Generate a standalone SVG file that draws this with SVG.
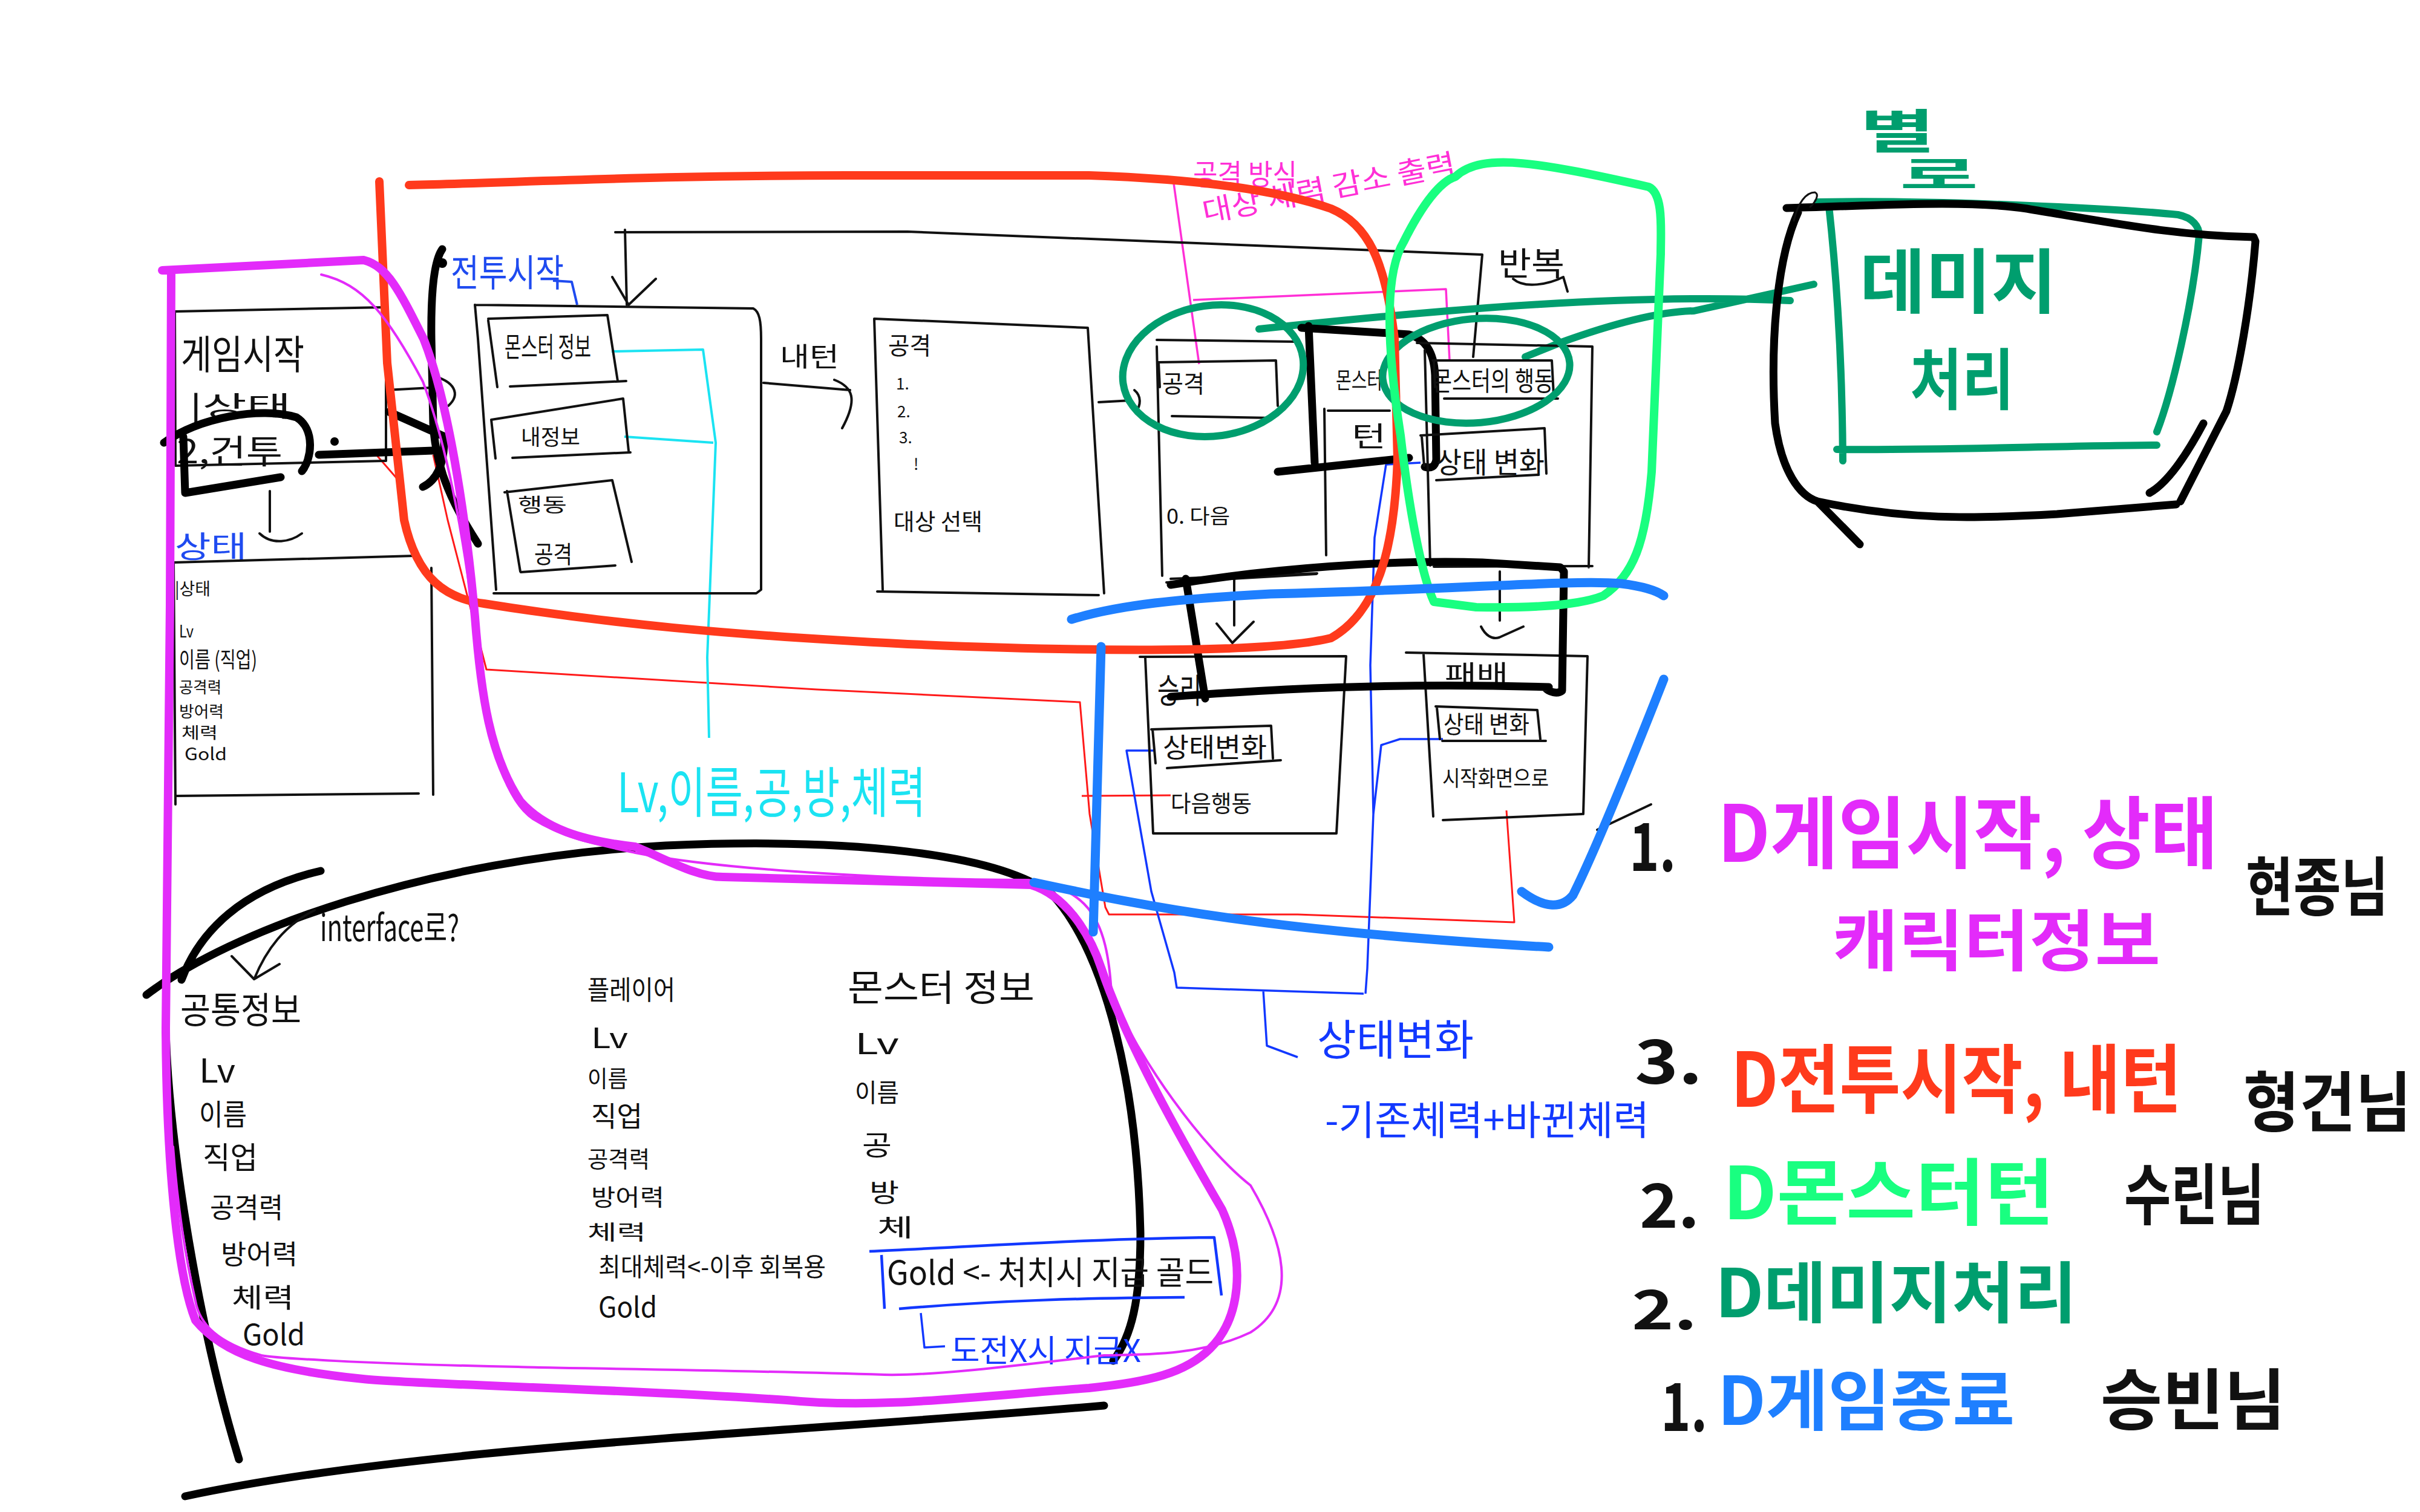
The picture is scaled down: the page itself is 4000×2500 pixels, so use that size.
<svg xmlns="http://www.w3.org/2000/svg" width="4000" height="2500" viewBox="0 0 4000 2500">
<style>
.t{font-family:"Noto Sans CJK KR","Noto Sans",sans-serif;fill:#111;}
.b{font-weight:700;}
.k{fill:none;stroke:#111;stroke-width:4;stroke-linecap:round;stroke-linejoin:round;}
.K{fill:none;stroke:#000;stroke-width:13;stroke-linecap:round;stroke-linejoin:round;}
.red{fill:none;stroke:#FF3A1C;stroke-width:14;stroke-linecap:round;stroke-linejoin:round;}
.rt{fill:none;stroke:#FF1A1A;stroke-width:3;stroke-linejoin:round;}
.mg{fill:none;stroke:#E32BFA;stroke-width:14;stroke-linecap:round;stroke-linejoin:round;}
.mgt{fill:none;stroke:#E32BFA;stroke-width:4;stroke-linecap:round;}
.pk{fill:none;stroke:#FF2FD6;stroke-width:3.5;stroke-linejoin:round;}
.cy{fill:none;stroke:#1BE3F2;stroke-width:4;stroke-linejoin:round;}
.gb{fill:none;stroke:#19FF80;stroke-width:14;stroke-linecap:round;stroke-linejoin:round;}
.gd{fill:none;stroke:#009E6E;stroke-width:12;stroke-linecap:round;stroke-linejoin:round;}
.bl{fill:none;stroke:#1E7FFF;stroke-width:15;stroke-linecap:round;stroke-linejoin:round;}
.blt{fill:none;stroke:#1238FF;stroke-width:3.5;stroke-linejoin:round;}
.cB{fill:#1F4BF0;}
.cC{fill:#1BE3F2;}
.cM{fill:#E32BFA;}
.cP{fill:#FF2FD6;}
.cR{fill:#FF3A1C;}
.cG{fill:#19FF80;}
.cD{fill:#009E6E;}
.cL{fill:#1E7FFF;}
.cT{fill:#1238FF;}
</style>
<rect width="4000" height="2500" fill="#fff"/>

<g id="connectors">
  <path class="rt" d="M716 752 L740 860 L804 1107 L1350 1140 L1785 1161 L1801 1346 L1827 1500 L1833 1512 L2145 1512 L2503 1525 L2490 1340 M1788 1316 L1935 1315 M622 752 L655 790"/>
  <path class="cy" d="M1011 581 L1162 578 L1183 732 L1169 1087 L1172 1220 M1032 722 L1179 732"/>
  <path class="blt" d="M1909 1241 L1862 1241 L1903 1474 L1941 1608 L1945 1633 L2254 1643 M2385 1222 L2314 1222 L2283 1232 L2270 1346 L2260 1601 L2257 1643 M2088 1637 L2094 1729 L2145 1748 M2348 765 L2291 768 L2272 889 L2265 1100 L2270 1346 M1522 2171 L1528 2228 L1562 2226"/>
  <path class="pk" d="M1940 303 L1982 602 M1940 303 L1962 303 M1972 496 L2390 478 L2396 596"/>
  <path class="k" d="M1017 384 L1500 383 L2100 407 L2450 421 L2435 590 M1033 380 L1036 504 M1012 458 L1039 504 L1084 461"/>
  <path class="k" d="M1262 633 L1405 645 M1379 628 C1410 640 1418 660 1392 708"/>
  <path class="k" d="M1816 665 L1870 662 M1875 645 C1887 655 1886 670 1877 682"/>
  <path class="k" d="M638 645 L713 641 M713 621 C752 630 762 652 741 671"/>
  <path class="k" d="M446 812 L446 879 M429 882 C450 902 480 896 499 882"/>
  <path class="k" d="M2040 957 L2040 1034 M2011 1031 L2037 1063 L2072 1028"/>
  <path class="k" d="M2479 945 L2479 1026 M2448 1036 C2455 1050 2466 1058 2478 1054 L2518 1036"/>
  <path class="k" d="M2501 461 C2520 478 2560 470 2584 458 L2591 482"/>
  <path class="k" d="M2640 1372 L2729 1330"/>
  <path class="blt" style="stroke:#1F4BF0;stroke-width:4" d="M914 464 L945 466 L954 504"/>
  <path class="gd" d="M2081 544 C2400 510 2700 485 2959 497 M2521 590 L2578 567 C2680 530 2750 515 2800 514 L2998 470"/>
</g>

<g id="region-game-start">
  <path class="k" d="M289 515 L638 508 L638 762 M289 515 L290 770 L636 762"/>
  <text class="t" x="299" y="610" font-size="66" textLength="204" lengthAdjust="spacingAndGlyphs">게임시작</text>
  <text class="t" x="313" y="688" font-size="46" textLength="168" lengthAdjust="spacingAndGlyphs">|상태</text>
  <text class="t" x="292" y="766" font-size="55" textLength="175" lengthAdjust="spacingAndGlyphs">2,건투</text>
  <path class="K" d="M271 732 C330 690 430 672 490 690 C522 710 515 760 499 779 M303 722 L306 815 L464 789 M527 752 L716 745"/>
  <circle cx="553" cy="730" r="7" fill="#000"/>
</g>

<g id="region-status">
  <text class="t cB" x="289" y="922" font-size="50" textLength="119" lengthAdjust="spacingAndGlyphs">상태</text>
  <path class="k" d="M287 930 L685 919 M713 939 L716 1314 M292 1316 L692 1312 M287 930 L290 1330"/>
  <text class="t" x="289" y="984" font-size="28" textLength="59" lengthAdjust="spacingAndGlyphs">|상태</text>
  <text class="t" x="296" y="1054" font-size="28" textLength="24" lengthAdjust="spacingAndGlyphs">Lv</text>
  <text class="t" x="296" y="1104" font-size="36" textLength="129" lengthAdjust="spacingAndGlyphs">이름 (직업)</text>
  <text class="t" x="296" y="1146" font-size="26" textLength="70" lengthAdjust="spacingAndGlyphs">공격력</text>
  <text class="t" x="296" y="1186" font-size="26" textLength="74" lengthAdjust="spacingAndGlyphs">방어력</text>
  <text class="t" x="300" y="1221" font-size="26" textLength="60" lengthAdjust="spacingAndGlyphs">체력</text>
  <text class="t" x="305" y="1257" font-size="28" textLength="70" lengthAdjust="spacingAndGlyphs">Gold</text>
</g>

<g id="region-battle-start">
  <path class="K" d="M731 412 C718 430 712 480 713 560 L716 700 C720 780 752 840 790 899 M643 681 L735 722 M734 725 C735 770 720 795 699 805"/>
  <circle cx="731" cy="435" r="8" fill="#000"/>
  <text class="t cB" x="745" y="474" font-size="62" textLength="187" lengthAdjust="spacingAndGlyphs">전투시작</text>
  <path class="k" d="M785 504 L1245 510 C1255 515 1258 530 1258 560 L1258 975 L1250 981 L816 981 M785 504 L790 560 L820 975"/>
  <path class="k" d="M807 527 L1004 521 L1021 630 M843 639 L1035 630 M807 530 L822 640"/>
  <text class="t" x="834" y="590" font-size="46" textLength="143" lengthAdjust="spacingAndGlyphs">몬스터 정보</text>
  <path class="k" d="M812 694 L1030 659 L1039 745 M847 757 L1042 748 M812 694 L819 758"/>
  <text class="t" x="861" y="736" font-size="36" textLength="98" lengthAdjust="spacingAndGlyphs">내정보</text>
  <path class="k" d="M834 814 L1012 794 L1044 929 M861 946 L1017 935 M838 812 L860 945"/>
  <text class="t" x="856" y="846" font-size="32" textLength="81" lengthAdjust="spacingAndGlyphs">행동</text>
  <text class="t" x="883" y="931" font-size="40" textLength="63" lengthAdjust="spacingAndGlyphs">공격</text>
  <text class="t" x="1289" y="606" font-size="44" textLength="98" lengthAdjust="spacingAndGlyphs">내턴</text>
</g>

<g id="region-attack">
  <path class="k" d="M1445 527 L1798 542 L1825 981 M1450 978 L1816 984 M1445 527 L1459 975"/>
  <text class="t" x="1468" y="586" font-size="40" textLength="71" lengthAdjust="spacingAndGlyphs">공격</text>
  <text class="t" x="1481" y="644" font-size="26">1.</text>
  <text class="t" x="1483" y="690" font-size="26">2.</text>
  <text class="t" x="1486" y="733" font-size="26">3.</text>
  <text class="t" x="1510" y="777" font-size="26">!</text>
  <text class="t" x="1477" y="876" font-size="38" textLength="147" lengthAdjust="spacingAndGlyphs">대상 선택</text>
</g>

<g id="region-monster-turn">
  <path class="k" d="M1912 562 L2144 565 M1912 573 L1921 952 M1928 963 L2176 949 M1915 599 L2109 596 L2112 671 M1937 688 L2100 691 M1915 599 L1917 640 M2189 676 L2192 918 M2195 679 L2297 679"/>
  <text class="t" x="1921" y="649" font-size="40" textLength="70" lengthAdjust="spacingAndGlyphs">공격</text>
  <text class="t" x="1928" y="866" font-size="34" textLength="105" lengthAdjust="spacingAndGlyphs">0. 다음</text>
  <text class="t" x="2208" y="642" font-size="38" textLength="77" lengthAdjust="spacingAndGlyphs">몬스터</text>
  <text class="t" x="2234" y="738" font-size="46" textLength="57" lengthAdjust="spacingAndGlyphs">턴</text>
  <path class="K" d="M2151 542 L2329 553 C2355 560 2370 580 2372 620 L2374 760 C2372 772 2365 775 2355 772 M2163 539 L2173 765 M2112 780 L2329 757"/>
  <path class="k" d="M2342 567 L2632 573 L2626 938 M2370 937 L2632 936 M2355 579 L2364 935"/>
  <path class="k" d="M2368 596 L2565 596 L2568 653 M2387 659 L2575 659 M2370 596 L2372 640"/>
  <text class="t" x="2368" y="646" font-size="44" textLength="200" lengthAdjust="spacingAndGlyphs">몬스터의 행동</text>
  <path class="k" d="M2348 720 L2553 708 L2556 783 M2374 794 L2543 785 M2350 722 L2354 770"/>
  <text class="t" x="2374" y="782" font-size="48" textLength="179" lengthAdjust="spacingAndGlyphs">상태 변화</text>
  <text class="t" x="2476" y="456" font-size="54" textLength="110" lengthAdjust="spacingAndGlyphs">반복</text>
  <text class="t cP" x="1972" y="306" font-size="48" textLength="172" lengthAdjust="spacingAndGlyphs">공격 방식</text>
  <text class="t cP" x="1991" y="368" font-size="48" textLength="425" lengthAdjust="spacingAndGlyphs" transform="rotate(-11 1991 368)">대상 체력 감소 출력</text>
  <ellipse class="gd" cx="2005" cy="613" rx="150" ry="108" transform="rotate(-8 2005 613)"/>
  <ellipse class="gd" cx="2440" cy="613" rx="155" ry="86" transform="rotate(-5 2440 613)"/>
</g>

<g id="region-win">
  <path class="k" d="M1935 957 L2177 948 M1884 1086 L2225 1085 L2209 1378 M1906 1378 L2209 1378 M1893 1088 L1906 1378"/>
  <text class="t" x="1913" y="1162" font-size="56" textLength="73" lengthAdjust="spacingAndGlyphs">승리</text>
  <path class="k" d="M1903 1206 L2101 1200 L2104 1254 M1929 1270 L2117 1257 M1905 1206 L1910 1262"/>
  <text class="t" x="1922" y="1252" font-size="44" textLength="172" lengthAdjust="spacingAndGlyphs">상태변화</text>
  <text class="t" x="1935" y="1342" font-size="38" textLength="134" lengthAdjust="spacingAndGlyphs">다음행동</text>
</g>

<g id="region-lose">
  <path class="k" d="M2324 1079 L2624 1085 L2617 1346 M2385 1356 L2615 1346 M2353 1082 L2369 1350"/>
  <text class="t" x="2388" y="1130" font-size="42" textLength="105" lengthAdjust="spacingAndGlyphs">패배</text>
  <path class="k" d="M2373 1168 L2541 1174 L2546 1222 M2384 1225 L2555 1225 M2375 1170 L2380 1222"/>
  <text class="t" x="2386" y="1212" font-size="40" textLength="142" lengthAdjust="spacingAndGlyphs">상태 변화</text>
  <text class="t" x="2384" y="1300" font-size="36" textLength="176" lengthAdjust="spacingAndGlyphs">시작화면으로</text>
  <path class="K" d="M1935 967 C2100 940 2300 925 2450 930 L2579 938 L2585 945 L2582 1142 C2575 1148 2560 1145 2553 1136 M1935 1152 C2100 1140 2300 1128 2560 1136 M1960 957 L1992 1155"/>
</g>

<g id="region-notes">
  <text class="t cC" x="1020" y="1343" font-size="90" textLength="510" lengthAdjust="spacingAndGlyphs">Lv,이름,공,방,체력</text>
  <text class="t cT" x="2177" y="1745" font-size="70" textLength="259" lengthAdjust="spacingAndGlyphs">상태변화</text>
  <text class="t cT" x="2190" y="1876" font-size="66" textLength="536" lengthAdjust="spacingAndGlyphs">-기존체력+바뀐체력</text>
</g>

<g id="region-damage">
  <text class="t cD b" x="3074" y="246" font-size="78" textLength="125" lengthAdjust="spacingAndGlyphs">별</text>
  <text class="t cD b" x="3140" y="312" font-size="62" textLength="130" lengthAdjust="spacingAndGlyphs">로</text>
  <path class="gd" d="M3004 334 C3200 330 3500 345 3600 355 C3625 360 3635 375 3635 389 C3625 500 3590 650 3565 714 M3036 743 C3200 745 3400 737 3565 736 M3023 341 C3035 450 3045 600 3046 762"/>
  <text class="t cD b" x="3074" y="508" font-size="116" textLength="326" lengthAdjust="spacingAndGlyphs">데미지</text>
  <text class="t cD b" x="3157" y="668" font-size="110" textLength="172" lengthAdjust="spacingAndGlyphs">처리</text>
  <path class="K" d="M2953 344 C3100 340 3250 330 3350 345 C3500 370 3600 390 3725 392 L3728 399 C3720 500 3700 620 3680 680 L3604 829 M3004 829 C3150 860 3260 858 3400 850 L3597 834 M2972 351 C2940 420 2925 550 2934 700 C2945 780 2975 820 3004 829 L3074 900 M3642 700 C3610 760 3580 800 3553 815"/>
  <path class="k" style="stroke-width:3" d="M2965 365 C2972 335 2985 318 3000 318 C3008 322 3000 335 2992 342"/>
</g>

<g id="region-interface">
  <path class="K" d="M242 1645 C380 1540 700 1420 1100 1398 C1400 1385 1650 1410 1740 1480 C1830 1580 1880 1800 1885 2040 C1885 2150 1870 2210 1840 2250 M300 1620 C330 1540 400 1470 530 1440 M274 1705 C280 1900 330 2200 395 2413 M306 2474 C700 2390 1300 2370 1825 2324"/>
  <path class="k" d="M383 1581 L420 1619 L462 1594 M420 1619 C440 1570 470 1530 520 1505"/>
  <text class="t" x="529" y="1556" font-size="60" textLength="230" lengthAdjust="spacingAndGlyphs">interface로?</text>
  <text class="t" x="298" y="1692" font-size="60" textLength="200" lengthAdjust="spacingAndGlyphs">공통정보</text>
  <text class="t" x="329" y="1790" font-size="54" textLength="60" lengthAdjust="spacingAndGlyphs">Lv</text>
  <text class="t" x="329" y="1860" font-size="48" textLength="79" lengthAdjust="spacingAndGlyphs">이름</text>
  <text class="t" x="335" y="1932" font-size="50" textLength="91" lengthAdjust="spacingAndGlyphs">직업</text>
  <text class="t" x="347" y="2013" font-size="46" textLength="121" lengthAdjust="spacingAndGlyphs">공격력</text>
  <text class="t" x="365" y="2090" font-size="44" textLength="127" lengthAdjust="spacingAndGlyphs">방어력</text>
  <text class="t" x="383" y="2162" font-size="44" textLength="103" lengthAdjust="spacingAndGlyphs">체력</text>
  <text class="t" x="401" y="2224" font-size="48" textLength="103" lengthAdjust="spacingAndGlyphs">Gold</text>
  <text class="t" x="971" y="1653" font-size="44" textLength="145" lengthAdjust="spacingAndGlyphs">플레이어</text>
  <text class="t" x="977" y="1733" font-size="46" textLength="61" lengthAdjust="spacingAndGlyphs">Lv</text>
  <text class="t" x="971" y="1797" font-size="38" textLength="67" lengthAdjust="spacingAndGlyphs">이름</text>
  <text class="t" x="977" y="1862" font-size="46" textLength="85" lengthAdjust="spacingAndGlyphs">직업</text>
  <text class="t" x="971" y="1930" font-size="38" textLength="103" lengthAdjust="spacingAndGlyphs">공격력</text>
  <text class="t" x="977" y="1993" font-size="38" textLength="121" lengthAdjust="spacingAndGlyphs">방어력</text>
  <text class="t" x="971" y="2050" font-size="34" textLength="97" lengthAdjust="spacingAndGlyphs">체력</text>
  <text class="t" x="989" y="2110" font-size="42" textLength="376" lengthAdjust="spacingAndGlyphs">최대체력&lt;-이후 회복용</text>
  <text class="t" x="989" y="2178" font-size="46" textLength="97" lengthAdjust="spacingAndGlyphs">Gold</text>
  <text class="t" x="1401" y="1655" font-size="60" textLength="309" lengthAdjust="spacingAndGlyphs">몬스터 정보</text>
  <text class="t" x="1413" y="1743" font-size="48" textLength="73" lengthAdjust="spacingAndGlyphs">Lv</text>
  <text class="t" x="1413" y="1822" font-size="42" textLength="73" lengthAdjust="spacingAndGlyphs">이름</text>
  <text class="t" x="1425" y="1910" font-size="46" textLength="49" lengthAdjust="spacingAndGlyphs">공</text>
  <text class="t" x="1437" y="1987" font-size="42" textLength="49" lengthAdjust="spacingAndGlyphs">방</text>
  <text class="t" x="1450" y="2044" font-size="40" textLength="60" lengthAdjust="spacingAndGlyphs">체</text>
  <text class="t" x="1466" y="2124" font-size="54" textLength="540" lengthAdjust="spacingAndGlyphs">Gold &lt;- 처치시 지급 골드</text>
  <path class="blt" style="stroke-width:4.5" d="M1437 2069 C1600 2062 1800 2048 2007 2046 L2019 2142 M1486 2164 C1650 2150 1800 2146 1958 2145 M1457 2075 L1462 2164"/>
  <text class="t cT" x="1571" y="2252" font-size="52" textLength="315" lengthAdjust="spacingAndGlyphs">도전X시 지급X</text>
</g>

<g id="outlines">
  <path class="red" d="M627 300 L640 600 L668 860 C690 960 740 990 800 998 C1000 1030 1200 1050 1500 1065 C1800 1078 2100 1080 2200 1055 C2280 1010 2305 900 2310 760 L2305 560 C2290 430 2260 370 2200 345 C2100 310 1950 295 1800 290 L1400 290 C1100 290 900 300 676 306"/>
  <path class="mg" d="M268 447 L601 430 C640 440 660 480 700 560 C740 660 770 850 785 1020 C795 1150 810 1250 860 1325 C900 1370 960 1390 1050 1400 C1100 1420 1150 1450 1195 1450 L1704 1463 C1760 1480 1800 1540 1820 1600 C1860 1720 1950 1880 2020 2000 C2060 2090 2050 2180 2000 2230 C1960 2270 1900 2285 1800 2295 C1600 2310 1450 2330 1300 2315 C1000 2295 700 2290 600 2280 C450 2265 370 2240 323 2183 C290 2100 275 1900 274 1700 L281 1000 L283 450"/>
  <path class="mgt" d="M531 454 C600 470 640 520 699 631 C740 740 770 900 790 1087 C800 1200 830 1320 881 1354 C930 1385 980 1395 1050 1410 C1200 1440 1500 1455 1700 1455 C1800 1470 1830 1520 1837 1641 C1880 1750 1990 1900 2067 1960 C2120 2050 2150 2150 2067 2203 C1990 2240 1900 2240 1825 2241 C1700 2255 1550 2275 1462 2273 C1200 2265 900 2262 856 2260 C600 2255 450 2245 432 2241 C360 2220 330 2190 323 2151 C300 2050 290 1950 286 1896 M281 450 L278 1400"/>
  <path class="gb" d="M2406 292 C2450 250 2550 270 2725 309 C2750 320 2745 380 2745 420 L2730 780 C2720 900 2700 950 2650 985 C2600 1005 2500 1005 2440 1004 L2370 995 C2350 950 2330 850 2315 720 C2290 560 2290 450 2320 400 C2350 340 2380 300 2406 292"/>
  <path class="bl" d="M1771 1024 C1850 1000 1950 990 2100 982 C2400 975 2600 958 2680 965 C2720 970 2740 978 2750 985 M2750 1123 C2700 1250 2640 1400 2600 1480 C2580 1505 2550 1500 2515 1474 M1709 1459 C1900 1500 2100 1540 2560 1566 M1820 1069 L1807 1541"/>
</g>

<g id="legend">
  <text class="t b" x="2693" y="1440" font-size="110" textLength="77" lengthAdjust="spacingAndGlyphs">1.</text>
  <text class="t b cM" x="2839" y="1425" font-size="130" textLength="827" lengthAdjust="spacingAndGlyphs">D게임시작, 상태</text>
  <text class="t b cM" x="3029" y="1596" font-size="110" textLength="542" lengthAdjust="spacingAndGlyphs">캐릭터정보</text>
  <text class="t b" x="3712" y="1505" font-size="106" textLength="236" lengthAdjust="spacingAndGlyphs">현종님</text>
  <text class="t b" x="2702" y="1792" font-size="100" textLength="112" lengthAdjust="spacingAndGlyphs">3.</text>
  <text class="t b cR" x="2861" y="1830" font-size="124" textLength="745" lengthAdjust="spacingAndGlyphs">D전투시작, 내턴</text>
  <text class="t b" x="3708" y="1862" font-size="108" textLength="278" lengthAdjust="spacingAndGlyphs">형건님</text>
  <text class="t b" x="2710" y="2030" font-size="100" textLength="99" lengthAdjust="spacingAndGlyphs">2.</text>
  <text class="t b cG" x="2848" y="2016" font-size="120" textLength="547" lengthAdjust="spacingAndGlyphs">D몬스터턴</text>
  <text class="t b" x="3511" y="2016" font-size="110" textLength="232" lengthAdjust="spacingAndGlyphs">수린님</text>
  <text class="t b" x="2697" y="2198" font-size="90" textLength="108" lengthAdjust="spacingAndGlyphs">2.</text>
  <text class="t b cD" x="2835" y="2178" font-size="110" textLength="598" lengthAdjust="spacingAndGlyphs">D데미지처리</text>
  <text class="t b" x="2745" y="2366" font-size="110" textLength="77" lengthAdjust="spacingAndGlyphs">1.</text>
  <text class="t b cL" x="2839" y="2356" font-size="110" textLength="491" lengthAdjust="spacingAndGlyphs">D게임종료</text>
  <text class="t b" x="3472" y="2355" font-size="110" textLength="306" lengthAdjust="spacingAndGlyphs">승빈님</text>
</g>
</svg>
